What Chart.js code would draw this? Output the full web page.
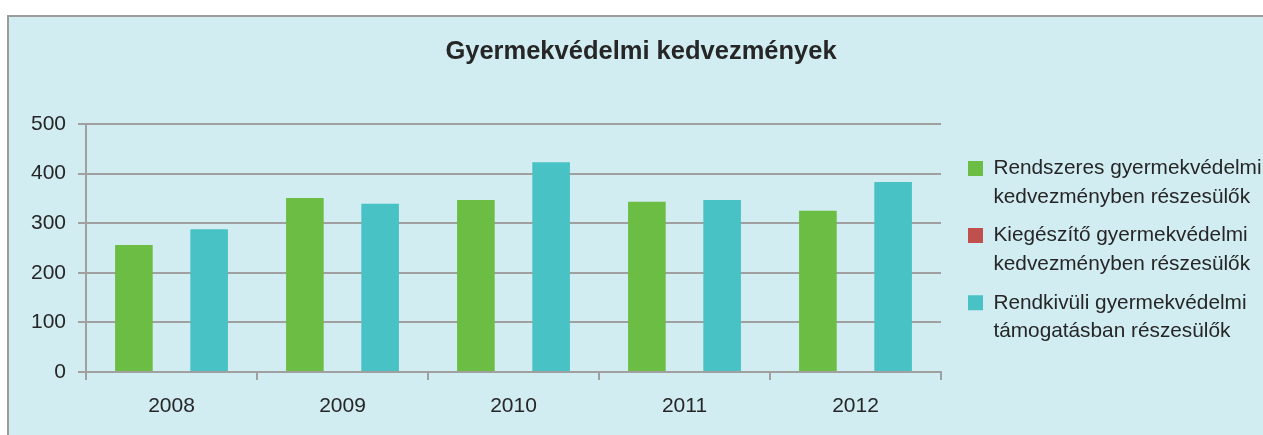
<!DOCTYPE html>
<html>
<head>
<meta charset="utf-8">
<script src="https://cdn.jsdelivr.net/npm/chart.js@4"></script>
<style>
  html, body { margin: 0; padding: 0; background: #ffffff; overflow: hidden; }
  #frame { position: absolute; left: 7px; top: 15px; width: 1270px; height: 440px;
           background: #d1edf2; border-left: 2px solid #9c9c9c; border-top: 2px solid #9c9c9c; }
  #wrap { position: absolute; left: 0; top: 0; width: 1263px; height: 435px; }
</style>
</head>
<body>
<div id="frame"></div>
<div id="wrap"><canvas id="c" width="1263" height="435"></canvas></div>
<script>
const categories = ['2008', '2009', '2010', '2011', '2012'];
const rendszeres = [256, 351, 347, 343, 325];
const kiegeszito = [0, 0, 0, 0, 0];
const rendkivuli = [288, 339, 423, 347, 383];
const seriesLabels = [
  ['Rendszeres gyermekvédelmi', 'kedvezményben részesülők'],
  ['Kiegészítő gyermekvédelmi', 'kedvezményben részesülők'],
  ['Rendkivüli gyermekvédelmi', 'támogatásban részesülők']
];
const seriesColors = ['#6bbd44', '#c0504d', '#48c2c5'];
const yTicks = [0, 100, 200, 300, 400, 500];
const titleText = 'Gyermekvédelmi kedvezmények';

const FONT = "'Liberation Sans', Arial, sans-serif";
const TEXT = '#262626';
const GRID = '#a0a0a0';

const PLOT_RIGHT = 941;
const LEGEND_GAP = 17;
const LEGEND_DY = 148;
const TITLE_CENTER = 641;

const layoutShift = {
  id: 'layoutShift',
  afterLayout(chart) {
    const lg = chart.legend;
    if (lg) {
      const dx = chart.chartArea.right + LEGEND_GAP - lg.left;
      lg.left += dx; lg.right += dx;
      lg.top += LEGEND_DY; lg.bottom += LEGEND_DY;
    }
    const tb = chart.titleBlock;
    if (tb) {
      const tdx = TITLE_CENTER - (tb.left + tb.right) / 2;
      tb.left += tdx; tb.right += tdx;
    }
  }
};

const chart = new Chart(document.getElementById('c'), {
  type: 'bar',
  data: {
    labels: categories,
    datasets: [
      { label: seriesLabels[0].join(' '), data: rendszeres, backgroundColor: seriesColors[0] },
      { label: seriesLabels[1].join(' '), data: kiegeszito, backgroundColor: seriesColors[1] },
      { label: seriesLabels[2].join(' '), data: rendkivuli, backgroundColor: seriesColors[2] }
    ]
  },
  options: {
    responsive: false,
    animation: false,
    devicePixelRatio: 1,
    layout: { padding: { left: 0, right: 0, top: 0, bottom: 0 } },
    datasets: { bar: { categoryPercentage: 0.66, barPercentage: 1.0, borderWidth: 0 } },
    plugins: {
      tooltip: { enabled: false },
      title: {
        display: true,
        text: titleText,
        color: TEXT,
        font: { family: FONT, size: 25.5, weight: 'bold', lineHeight: 1.2 },
        padding: { top: 37, bottom: 56.4 }
      },
      legend: {
        display: true,
        position: 'right',
        align: 'start',
        labels: {
          color: TEXT,
          font: { family: FONT, size: 20.8, lineHeight: 1.375 },
          boxWidth: 15,
          boxHeight: 15,
          padding: 10,
          generateLabels(chart) {
            return chart.data.datasets.map((ds, i) => ({
              text: seriesLabels[i],
              fillStyle: ds.backgroundColor,
              strokeStyle: ds.backgroundColor,
              lineWidth: 0,
              hidden: false,
              datasetIndex: i,
              fontColor: TEXT
            }));
          }
        }
      }
    },
    scales: {
      x: {
        grid: { display: true, drawOnChartArea: false, drawTicks: true, tickLength: 8, color: GRID, lineWidth: 2 },
        border: { display: true, color: GRID, width: 2 },
        ticks: { color: TEXT, font: { family: FONT, size: 21, lineHeight: 1.2 }, padding: 14 },
        afterFit(scale) { scale.height = 63; }
      },
      y: {
        min: 0,
        max: 500,
        afterBuildTicks(scale) { scale.ticks = yTicks.map(v => ({ value: v })); },
        grid: { color: GRID, lineWidth: 2, tickLength: 8, drawTicks: true },
        border: { display: true, color: GRID, width: 2 },
        ticks: { color: TEXT, font: { family: FONT, size: 21 }, padding: 12 },
        afterFit(scale) { scale.width = 86; }
      }
    }
  },
  plugins: [layoutShift]
});

const padRight = Math.max(0, 1263 - PLOT_RIGHT - chart.legend.width);
chart.options.layout.padding.right = padRight;
chart.update('none');
</script>
</body>
</html>
